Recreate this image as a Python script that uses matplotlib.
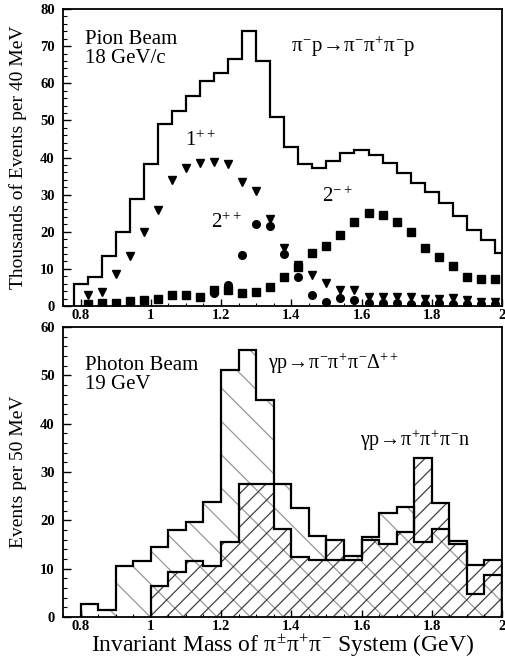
import numpy as np
import matplotlib
matplotlib.use('Agg')
import matplotlib.pyplot as plt
from matplotlib.ticker import MultipleLocator, FuncFormatter

plt.rcParams['font.family'] = 'Liberation Serif'
plt.rcParams['mathtext.fontset'] = 'custom'
plt.rcParams['mathtext.rm'] = 'Liberation Serif'
plt.rcParams['mathtext.it'] = 'Liberation Serif'
plt.rcParams['mathtext.bf'] = 'Liberation Serif:bold'
plt.rcParams['hatch.linewidth'] = 0.9

# ---- top panel: pion beam, 40 MeV bins (thousands of events)
pion_edges = 0.78 + 0.04 * np.arange(32)
pion_counts = [5.9, 7.8, 13.4, 20.0, 28.8, 38.3, 49.0, 52.4, 56.6, 60.7,
               62.7, 66.5, 74.0, 65.9, 51.0, 42.9, 38.2, 37.1, 39.1, 41.2,
               42.0, 40.7, 38.6, 35.8, 33.2, 30.8, 27.7, 24.3, 20.5, 17.8, 14.2]

wave_mass = 0.82 + 0.04 * np.arange(30)
wave_1pp = [3.1, 3.9, 8.6, 13.5, 20.0, 25.9, 34.0, 37.1, 38.5, 38.9,
            38.3, 33.5, 31.1, 23.5, 15.5, 11.0, 8.4, 6.3, 4.3, 4.3,
            2.5, 2.5, 2.5, 2.5, 1.8, 1.8, 2.2, 1.5, 1.2, 1.2]
wave_2pp_mass = wave_mass[9:]
wave_2pp = [3.4, 5.7, 13.7, 22.1, 21.6, 14.0, 7.7, 3.0, 1.2, 2.1,
            1.6, 0.8, 0.8, 0.8, 0.6, 0.6, 0.8, 0.6, 0.5, 0.5, 0.5]
wave_2mp = [0.5, 0.9, 0.9, 1.4, 1.6, 1.8, 3.0, 3.0, 2.5, 4.3,
            4.3, 3.4, 3.9, 5.2, 7.9, 10.6, 14.4, 16.2, 19.1, 22.7,
            25.0, 24.5, 22.7, 20.0, 15.5, 13.3, 10.8, 7.9, 7.2, 7.2]

# ---- bottom panel: photon beam, 50 MeV bins
photon_edges = 0.80 + 0.05 * np.arange(25)
delta_counts = [2.6, 1.4, 10.6, 11.6, 14.5, 17.9, 19.7, 23.8, 51.1, 55.2,
                45.0, 27.6, 22.6, 16.8, 11.7, 12.6, 16.6, 21.5, 22.8, 15.5,
                18.3, 15.7, 4.8, 8.6]
neutron_edges = photon_edges[4:]
neutron_counts = [6.4, 9.4, 11.6, 10.6, 15.5, 27.6, 27.6, 18.3, 12.4, 11.7,
                  16.0, 11.7, 15.9, 15.2, 17.6, 32.8, 23.6, 15.2, 10.7, 11.7]

xticks = [0.8, 1.0, 1.2, 1.4, 1.6, 1.8, 2.0]

fig = plt.figure(figsize=(5.06, 6.66), dpi=100)
ax1 = fig.add_axes([0.1245, 0.5405, 0.8676, 0.446])
ax2 = fig.add_axes([0.1245, 0.0736, 0.8676, 0.4354])


def style_axis(ax, ymax, ystep):
    ax.set_xlim(0.75, 2.0)
    ax.set_ylim(0, ymax)
    ax.set_xticks(xticks)
    ax.xaxis.set_major_formatter(FuncFormatter(lambda v, p: '%g' % v))
    ax.xaxis.set_minor_locator(MultipleLocator(0.05))
    ax.yaxis.set_major_locator(MultipleLocator(ystep))
    ax.yaxis.set_minor_locator(MultipleLocator(ystep / 5))
    ax.tick_params(axis='both', which='both', direction='in')
    ax.tick_params(axis='y', which='major', length=6, width=1.0, labelsize=10.5, pad=6)
    ax.tick_params(axis='y', which='minor', length=3, width=0.8)
    ax.tick_params(axis='x', which='major', length=5, width=1.0, labelsize=10.5, pad=2)
    ax.tick_params(axis='x', which='minor', length=2.5, width=0.8)
    for lab in ax.get_xticklabels() + ax.get_yticklabels():
        lab.set_fontweight('bold')
    for sp in ax.spines.values():
        sp.set_linewidth(1.3)


# top panel
ax1.stairs(pion_counts, pion_edges, color='black', linewidth=1.6)
ax1.plot(wave_mass, wave_2mp, 's', color='black', markersize=5.5)
ax1.plot(wave_2pp_mass, wave_2pp, 'o', color='black', markersize=5.5)
ax1.plot(wave_mass, wave_1pp, 'v', color='black', markersize=6)
style_axis(ax1, 80, 10)
ax1.set_ylabel('Thousands of Events per 40 MeV', fontsize=14)
ax1.yaxis.set_label_coords(-0.082, 0.5)
ax1.text(0.05, 0.93, 'Pion Beam\n18 GeV/c', transform=ax1.transAxes,
         fontsize=15, va='top', ha='left', linespacing=1.0)
ax1.text(0.52, 0.915, r'$\pi^{-}\mathrm{p}\!\rightarrow\!\pi^{-}\pi^{+}\pi^{-}\mathrm{p}$',
         transform=ax1.transAxes, fontsize=15, va='top', ha='left')
ax1.text(1.14, 44.5, r'$1^{++}$', fontsize=15, ha='center', va='center')
ax1.text(1.215, 22.5, r'$2^{++}$', fontsize=15, ha='center', va='center')
ax1.text(1.53, 29.5, r'$2^{-+}$', fontsize=15, ha='center', va='center')

# bottom panel
ax2.stairs(delta_counts, photon_edges, fill=True, facecolor='none',
           edgecolor='0.6', hatch='\\', linewidth=0)
ax2.stairs(neutron_counts, neutron_edges, fill=True, facecolor='none',
           edgecolor='0.25', hatch='//', linewidth=0)
ax2.stairs(delta_counts, photon_edges, color='black', linewidth=1.6)
ax2.stairs(neutron_counts, neutron_edges, color='black', linewidth=1.6)
style_axis(ax2, 60, 10)
ax2.set_ylabel('Events per 50 MeV', fontsize=14)
ax2.yaxis.set_label_coords(-0.082, 0.5)
ax2.set_xlabel(r'Invariant Mass of $\pi^{\pm}\pi^{+}\pi^{-}$ System (GeV)', fontsize=17,
               labelpad=0)
ax2.text(0.05, 0.9, 'Photon Beam\n19 GeV', transform=ax2.transAxes,
         fontsize=15, va='top', ha='left', linespacing=1.0)
ax2.text(1.335, 52.5, r'$\gamma\mathrm{p}\!\rightarrow\!\pi^{-}\pi^{+}\pi^{-}\Delta^{++}$',
         fontsize=14.5, ha='left', va='center')
ax2.text(1.597, 36.5, r'$\gamma\mathrm{p}\!\rightarrow\!\pi^{+}\pi^{+}\pi^{-}\mathrm{n}$',
         fontsize=14.5, ha='left', va='center')

fig.savefig('out.png', dpi=100)
